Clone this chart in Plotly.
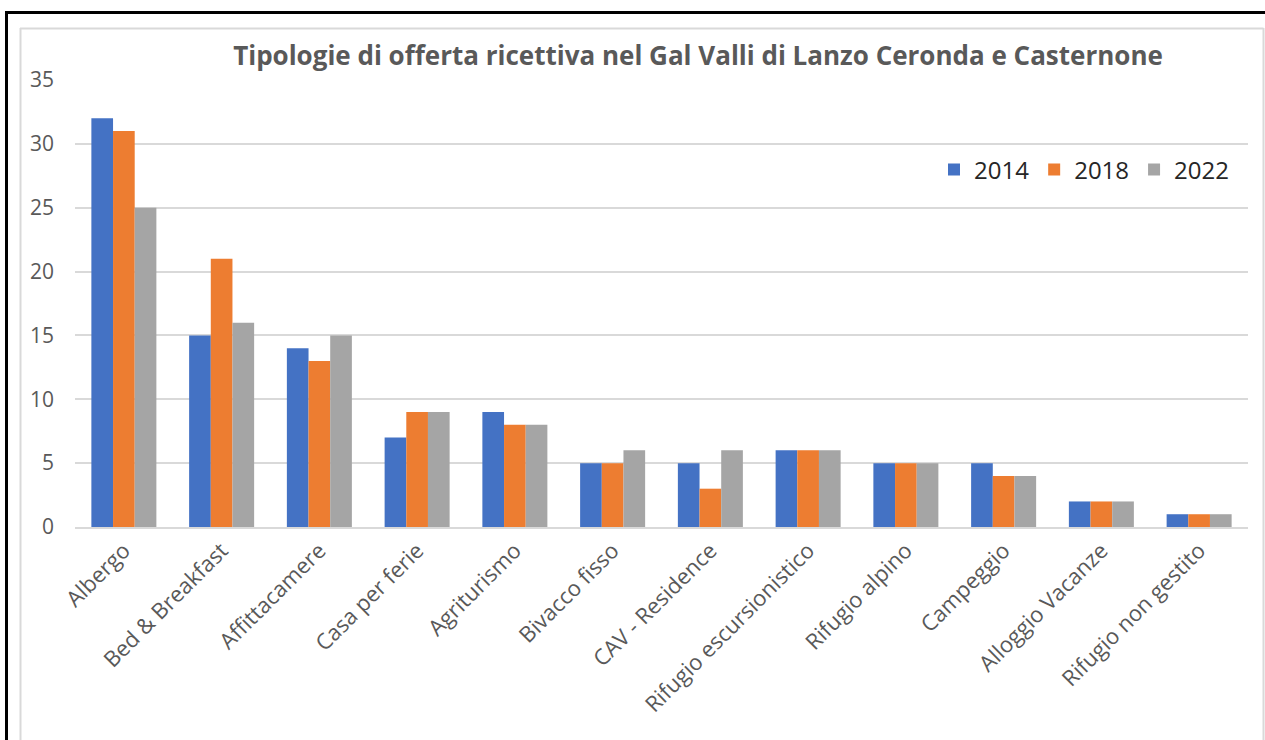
import plotly.graph_objects as go

categories = ["Albergo", "Bed & Breakfast", "Affittacamere", "Casa per ferie", "Agriturismo",
              "Bivacco fisso", "CAV - Residence", "Rifugio escursionistico", "Rifugio alpino",
              "Campeggio", "Alloggio Vacanze", "Rifugio non gestito"]
v2014 = [32, 15, 14, 7, 9, 5, 5, 6, 5, 5, 2, 1]
v2018 = [31, 21, 13, 9, 8, 5, 3, 6, 5, 4, 2, 1]
v2022 = [25, 16, 15, 9, 8, 6, 6, 6, 5, 4, 2, 1]
years = ["2014", "2018", "2022"]
colors = ["#4472C4", "#ED7D31", "#A5A5A5"]

W, H = 1265, 740
L, R, T, B = 75, 1248, 80, 527

def px(x):
    return (x - L) / (R - L)

def py(y):
    return (B - y) / (B - T)

fig = go.Figure()
for name, vals, c in zip(years, [v2014, v2018, v2022], colors):
    fig.add_trace(go.Bar(x=categories, y=vals, name=name, marker=dict(color=c, line=dict(width=0))))

txt = "#595959"
fig.update_layout(
    width=W, height=H,
    margin=dict(l=L, r=W - R, t=T, b=H - B),
    paper_bgcolor="white", plot_bgcolor="white",
    barmode="group", bargap=0.335, bargroupgap=0,
    font=dict(family="Open Sans", color=txt),
    title=dict(text="<b>Tipologie di offerta ricettiva nel Gal Valli di Lanzo Ceronda e Casternone</b>",
               x=px(698), xref="paper", xanchor="center", y=1 - 56 / H, yanchor="middle",
               font=dict(size=26, color=txt, family="Open Sans")),
    legend=dict(orientation="h", x=px(1234), xanchor="right", y=py(170), yanchor="middle",
                font=dict(size=24, color="#262626"), bgcolor="rgba(0,0,0,0)",
                itemwidth=30, tracegroupgap=0),
    showlegend=True,
)
fig.update_yaxes(range=[0, 35], dtick=5, showgrid=True, gridcolor="#D9D9D9", gridwidth=2,
                 zeroline=False, showline=False, tickfont=dict(size=21, color=txt),
                 ticks="", ticklabelstandoff=20)
fig.update_xaxes(showgrid=False, showline=True, linecolor="#D9D9D9", linewidth=2,
                 tickangle=-45, tickfont=dict(size=22, color=txt), ticks="")

shapes = [
    # outer black frame
    dict(type="line", xref="paper", yref="paper", x0=px(6.5), x1=px(6.5), y0=py(12), y1=py(745),
         line=dict(color="black", width=3)),
    dict(type="line", xref="paper", yref="paper", x0=px(5), x1=px(1270), y0=py(12.5), y1=py(12.5),
         line=dict(color="black", width=3)),
    # inner light frame
    dict(type="line", xref="paper", yref="paper", x0=px(20.5), x1=px(20.5), y0=py(28), y1=py(745),
         line=dict(color="#D9D9D9", width=2)),
    dict(type="line", xref="paper", yref="paper", x0=px(20), x1=px(1263.5), y0=py(28.5), y1=py(28.5),
         line=dict(color="#D9D9D9", width=2)),
    dict(type="line", xref="paper", yref="paper", x0=px(1263.5), x1=px(1263.5), y0=py(28), y1=py(745),
         line=dict(color="#D9D9D9", width=2)),
]
fig.update_layout(shapes=shapes)

fig.write_html("out.html", config={"displayModeBar": False},
               post_script="document.body.style.margin='0';document.body.style.overflow='hidden';")
